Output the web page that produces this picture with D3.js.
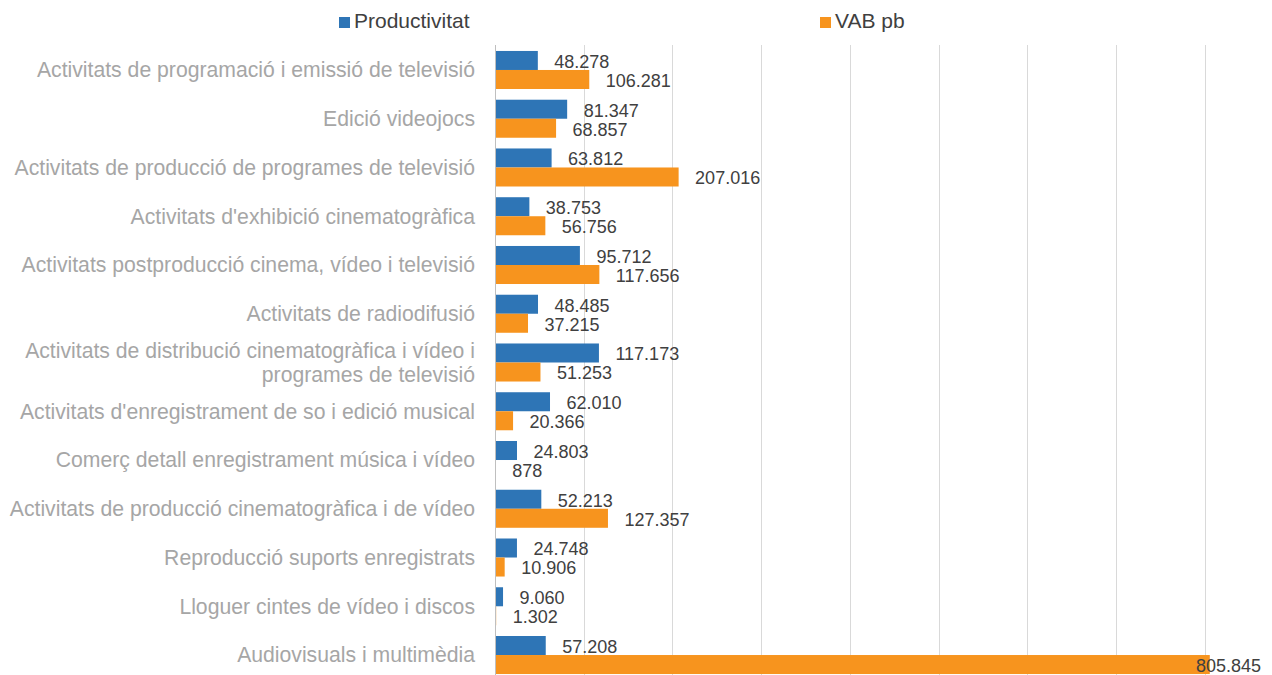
<!DOCTYPE html>
<html>
<head>
<meta charset="utf-8">
<style>
 body{
     margin : 0px;
     background: #fff;
 }
 svg{
     font-family: "Liberation Sans", Arial, sans-serif;
     background: #fff;
 }
 .cat{
     fill : #a6a6a6;
     font-size : 21.2px;
 }
 .val{
     fill : #404040;
     font-size : 18px;
 }
 .legend text{
     fill : #404040;
     font-size : 21px;
 }
</style>
</head>
<body>
<svg width="1272" height="675"></svg>
<script src="https://d3js.org/d3.v7.min.js"></script>
<script>

var categories = [
    "Activitats de programació i emissió de televisió",
    "Edició videojocs",
    "Activitats de producció de programes de televisió",
    "Activitats d'exhibició cinematogràfica",
    "Activitats postproducció cinema, vídeo i televisió",
    "Activitats de radiodifusió",
    "Activitats de distribució cinematogràfica i vídeo i programes de televisió",
    "Activitats d'enregistrament de so i edició musical",
    "Comerç detall enregistrament música i vídeo",
    "Activitats de producció cinematogràfica i de vídeo",
    "Reproducció suports enregistrats",
    "Lloguer cintes de vídeo i discos",
    "Audiovisuals i multimèdia"
];
var productivitat = [48278, 81347, 63812, 38753, 95712, 48485, 117173, 62010, 24803, 52213, 24748, 9060, 57208];
var vab = [106281, 68857, 207016, 56756, 117656, 37215, 51253, 20366, 878, 127357, 10906, 1302, 805845];
var seriesNames = ["Productivitat", "VAB pb"];
var seriesColors = ["#2e75b6", "#f7941e"];

var svg = d3.select("svg");

var x = d3.scaleLinear()
    .domain([0, 800000])
    .range([495, 1204.6]);
var y = d3.scaleBand()
    .domain(categories)
    .range([45.6, 679.4])
    .paddingInner(0.22)
    .paddingOuter(0.11);
var sub = d3.scaleBand()
    .domain([0, 1])
    .range([0, y.bandwidth()]);

// catalan number format: dot for thousands
var ca = d3.formatLocale({decimal: ",", thousands: ".", grouping: [3], currency: ["", " €"]});
var fmt = ca.format(",d");

// gridlines
svg.append("g")
    .selectAll("line")
    .data(x.ticks(8).filter(function(t){ return t > 0; }))
    .enter().append("line")
    .attr("x1", function(d){ return Math.round(x(d)) + 0.5; })
    .attr("x2", function(d){ return Math.round(x(d)) + 0.5; })
    .attr("y1", 45)
    .attr("y2", 675)
    .attr("stroke", "#d9d9d9")
    .attr("stroke-width", 1);

var data = categories.map(function(c, i){
    return {cat: c, vals: [productivitat[i], vab[i]]};
});

var groups = svg.append("g")
    .selectAll("g")
    .data(data)
    .enter().append("g")
    .attr("transform", function(d){ return "translate(0," + y(d.cat) + ")"; });

groups.selectAll("rect")
    .data(function(d){ return d.vals.map(function(v, k){ return {v: v, k: k}; }); })
    .enter().append("rect")
    .attr("x", x(0))
    .attr("y", function(d){ return sub(d.k); })
    .attr("width", function(d){ return x(d.v) - x(0); })
    .attr("height", sub.bandwidth())
    .attr("fill", function(d){ return seriesColors[d.k]; });

groups.selectAll("text")
    .data(function(d){ return d.vals.map(function(v, k){ return {v: v, k: k}; }); })
    .enter().append("text")
    .attr("class", "val")
    .attr("x", function(d){ return x(d.v) + 16.5; })
    .attr("y", function(d){ return sub(d.k) + sub.bandwidth() / 2 + 1; })
    .attr("dy", "0.35em")
    .text(function(d){ return fmt(d.v); })
    .each(function(){
        var t = d3.select(this);
        var w = this.getComputedTextLength();
        if(+t.attr("x") + w > 1265){
            t.attr("x", 1261).attr("text-anchor", "end");
        }
    });

// axis line
svg.append("line")
    .attr("x1", Math.round(x(0)) + 0.5)
    .attr("x2", Math.round(x(0)) + 0.5)
    .attr("y1", 45)
    .attr("y2", 675)
    .attr("stroke", "#bfbfbf")
    .attr("stroke-width", 1);

// category labels, wrapped when too long
var labels = svg.append("g")
    .selectAll("text")
    .data(categories)
    .enter().append("text")
    .attr("class", "cat")
    .attr("text-anchor", "end")
    .attr("x", 475)
    .attr("y", function(d){ return y(d) + y.bandwidth() / 2; });

labels.each(function(d){
    var t = d3.select(this);
    var words = d.split(" ");
    var lines = [];
    var line = [];
    var probe = t.append("tspan");
    words.forEach(function(w){
        line.push(w);
        probe.text(line.join(" "));
        if(probe.node().getComputedTextLength() > 472 && line.length > 1){
            line.pop();
            lines.push(line.join(" "));
            line = [w];
        }
    });
    lines.push(line.join(" "));
    probe.remove();
    var lh = 24;
    lines.forEach(function(l, i){
        t.append("tspan")
            .attr("x", 475)
            .attr("dy", i == 0 ? (0.35 * 21 - (lines.length - 1) * lh / 2) + "px" : lh + "px")
            .text(l);
    });
});

// legend
var legendX = [339, 820];
var legend = svg.append("g").attr("class", "legend");
seriesNames.forEach(function(n, k){
    legend.append("rect")
        .attr("x", legendX[k])
        .attr("y", 17)
        .attr("width", 11)
        .attr("height", 11)
        .attr("fill", seriesColors[k]);
    legend.append("text")
        .attr("x", legendX[k] + 15)
        .attr("y", 28)
        .text(n);
});

</script>
</body>
</html>
